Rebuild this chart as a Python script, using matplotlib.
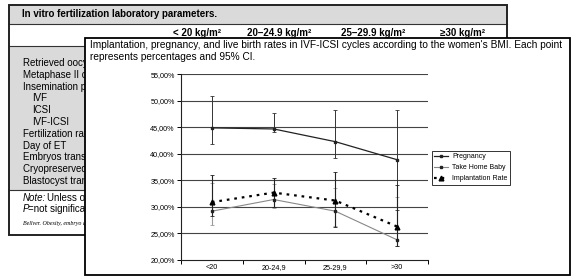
import numpy as np
import matplotlib
matplotlib.use("Agg")
import matplotlib.pyplot as plt
from matplotlib.patches import Rectangle
from matplotlib.ticker import FixedLocator, FuncFormatter

plt.rcParams['font.family'] = ['Liberation Sans', 'DejaVu Sans']

W, H = 572, 278

# chart data (percent)
categories = ['<20', '20-24,9', '25-29,9', '>30']
pregnancy = [44.9, 44.7, 42.3, 38.9]
preg_lo = [41.9, 44.1, 39.3, 29.5]
preg_hi = [51.0, 47.8, 48.3, 48.3]
baby = [29.2, 31.4, 29.2, 23.8]
baby_lo = [26.6, 29.8, 26.5, 22.6]
baby_hi = [34.6, 34.4, 33.5, 31.9]
implant = [30.9, 32.7, 31.2, 26.3]
implant_lo = [28.3, 30.0, 26.3, 22.6]
implant_hi = [36.0, 35.5, 36.6, 34.2]

# background table text
table_title = 'In vitro fertilization laboratory parameters.'
col_headers = ['< 20 kg/m²', '20–24.9 kg/m²', '25–29.9 kg/m²', '≥30 kg/m²']
row_labels = ['Retrieved oocytes', 'Metaphase II oocytes', 'Insemination procedure',
              'IVF', 'ICSI', 'IVF-ICSI', 'Fertilization rate', 'Day of ET',
              'Embryos transferred', 'Cryopreserved embryos', 'Blastocyst transfer']
row_indent = [0, 0, 0, 1, 1, 1, 0, 0, 0, 0, 0]

chart_title = ["Implantation, pregnancy, and live birth rates in IVF-ICSI cycles according to the women's BMI. Each point",
               "represents percentages and 95% CI."]


def fx(px):
    return px / W


def fy(py):
    return 1 - py / H


def rect(x0, y0, x1, y1, **kw):
    return Rectangle((fx(x0), fy(y1)), fx(x1) - fx(x0), fy(y0) - fy(y1),
                     transform=fig.transFigure, **kw)


fig = plt.figure(figsize=(W / 100, H / 100), dpi=100)
fig.patch.set_facecolor('white')

# ---- table behind the chart ----
gray = '#dadada'
fig.patches.append(rect(9, 5, 507, 235, facecolor='white', edgecolor='none', zorder=1))
fig.patches.append(rect(9, 5, 507, 24, facecolor=gray, edgecolor='none', zorder=1))
fig.patches.append(rect(9, 46, 507, 190, facecolor=gray, edgecolor='none', zorder=1))
for yy in (24, 46, 190):
    fig.add_artist(plt.Line2D([fx(9), fx(507)], [fy(yy), fy(yy)], color='#333333',
                              lw=0.8, transform=fig.transFigure, zorder=2))
fig.patches.append(rect(9, 5, 507, 235, facecolor='none', edgecolor='#222222', lw=1.4, zorder=2))

fig.text(fx(22), fy(14), table_title, fontsize=7, fontweight='bold', va='center', zorder=3)
for cx, lab in zip([197, 279, 373, 463], col_headers):
    fig.text(fx(cx), fy(33), lab, fontsize=7, fontweight='bold', ha='center', va='center', zorder=3)
for i, (lab, ind) in enumerate(zip(row_labels, row_indent)):
    fig.text(fx(23 + 9 * ind), fy(63 + 11.8 * i), lab, fontsize=7, va='center', zorder=3)
fig.text(fx(23), fy(198), 'Note:', fontsize=7, style='italic', va='center', zorder=3)
fig.text(fx(47), fy(198), 'Unless otherwise stated', fontsize=7, va='center', zorder=3)
fig.text(fx(23), fy(209), 'P', fontsize=7, style='italic', va='center', zorder=3)
fig.text(fx(28), fy(209), '=not significant.', fontsize=7, va='center', zorder=3)
fig.text(fx(23), fy(224), 'Bellver. Obesity, embryo quality.', fontsize=4.3, style='italic',
         family='Liberation Serif', va='center', zorder=3)

# ---- chart panel ----
fig.patches.append(rect(85, 38, 570, 275, facecolor='white', edgecolor='black', lw=1.3, zorder=5))
for yy, line in zip([45.5, 56.5], chart_title):
    fig.text(fx(90), fy(yy), line, fontsize=7.3, va='center', zorder=6)

ax = fig.add_axes([fx(181), fy(260), fx(428) - fx(181), fy(74.3) - fy(260)])
ax.set_zorder(10)
ax.patch.set_alpha(0)

x = np.arange(len(categories)) + 0.5
p = np.array(pregnancy) / 100
b = np.array(baby) / 100
m = np.array(implant) / 100

for v in np.arange(0.25, 0.551, 0.05):
    ax.axhline(v, color='#444444', lw=0.8, zorder=1)

ax.errorbar(x, b, yerr=[b - np.array(baby_lo) / 100, np.array(baby_hi) / 100 - b],
            fmt='none', ecolor='#9a9a9a', elinewidth=0.8, capsize=1.5, capthick=0.6, zorder=2)
ax.errorbar(x, p, yerr=[p - np.array(preg_lo) / 100, np.array(preg_hi) / 100 - p],
            fmt='none', ecolor='#333333', elinewidth=0.7, capsize=1.5, capthick=0.6, zorder=3)
ax.errorbar(x, m, yerr=[m - np.array(implant_lo) / 100, np.array(implant_hi) / 100 - m],
            fmt='none', ecolor='#222222', elinewidth=0.8, capsize=1.5, capthick=0.6, zorder=3)

ax.plot(x, p, color='#222222', lw=0.9, marker='s', ms=1.7, label='Pregnancy', zorder=4)
ax.plot(x, b, color='#888888', lw=0.8, marker='s', ms=1.7, mfc='#222222', mec='#222222',
        label='Take Home Baby', zorder=4)
ax.plot(x, m, color='black', lw=1.6, ls=(0, (1.2, 2.2)), marker='^', ms=3.4,
        label='Implantation Rate', zorder=5)

ax.set_xlim(0, 4)
ax.set_ylim(0.20, 0.55)
ax.yaxis.set_major_locator(FixedLocator(np.arange(0.20, 0.551, 0.05)))
ax.yaxis.set_major_formatter(FuncFormatter(lambda v, _: f'{v * 100:.2f}%'.replace('.', ',')))
ax.set_xticks(x)
ax.set_xticklabels(categories)
ax.xaxis.set_minor_locator(FixedLocator([0, 1, 2, 3, 4]))
ax.tick_params(axis='x', which='major', length=0, labelsize=5.2, pad=3)
ax.tick_params(axis='x', which='minor', length=3, width=0.7, direction='out')
ax.tick_params(axis='y', length=3, width=0.7, labelsize=5.2, pad=1.5)
for s in ('top', 'right'):
    ax.spines[s].set_visible(False)
for s in ('left', 'bottom'):
    ax.spines[s].set_linewidth(0.8)
    ax.spines[s].set_color('#222222')

leg = ax.legend(loc='upper left', bbox_to_anchor=(fx(432), fy(151)), bbox_transform=fig.transFigure,
                borderaxespad=0, fontsize=5.0, frameon=True, fancybox=False, handlelength=2.0,
                handletextpad=0.6, labelspacing=0.55, borderpad=0.35)
leg.get_frame().set_edgecolor('black')
leg.get_frame().set_linewidth(0.7)

fig.savefig('out.png', dpi=100)
